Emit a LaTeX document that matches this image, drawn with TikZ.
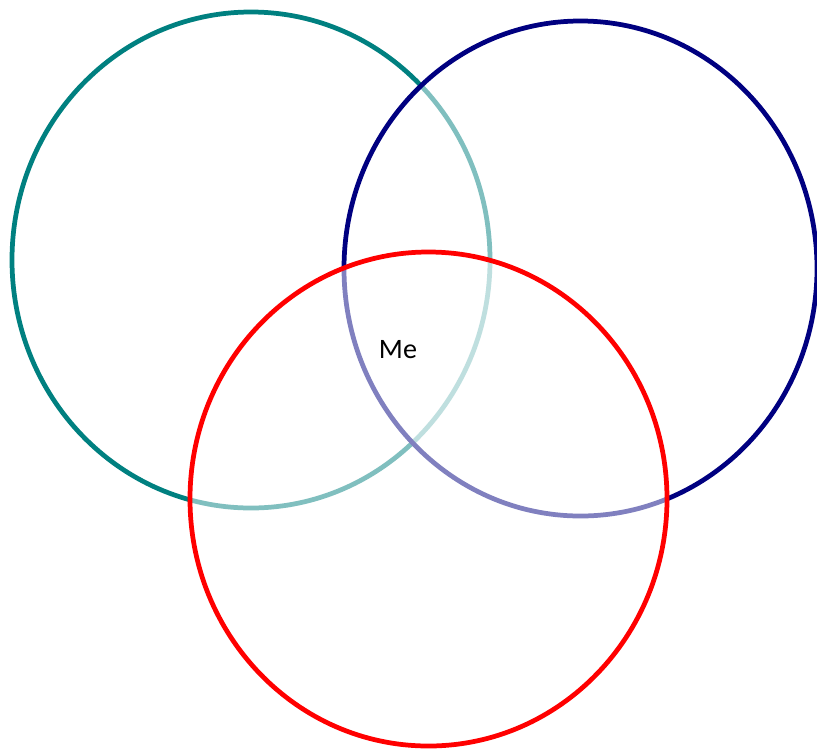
\documentclass[tikz,border=0pt]{standalone}
\usepackage{fontspec}
\setmainfont{Carlito}
\usepackage{tikz}

\begin{document}
\begin{tikzpicture}[x=0.02cm, y=-0.02cm, line width=2.7pt]
  % Frame
  \useasboundingbox (0,0) rectangle (817,751);

  % Teal circle
  \draw[teal, fill=white, fill opacity=0.5] (251,260) ellipse [x radius=239, y radius=248];
  % Navy circle
  \draw[blue!50!black, fill=white, fill opacity=0.5] (580.5,268.5) ellipse [x radius=236.5, y radius=247.5];
  % Red circle
  \draw[red, fill=white, fill opacity=0.5] (428.5,499) ellipse [x radius=238.5, y radius=247];

  % Label
  \node[font=\fontsize{16pt}{19pt}\selectfont] (me) at (398,350) {Me};
\end{tikzpicture}
\end{document}
